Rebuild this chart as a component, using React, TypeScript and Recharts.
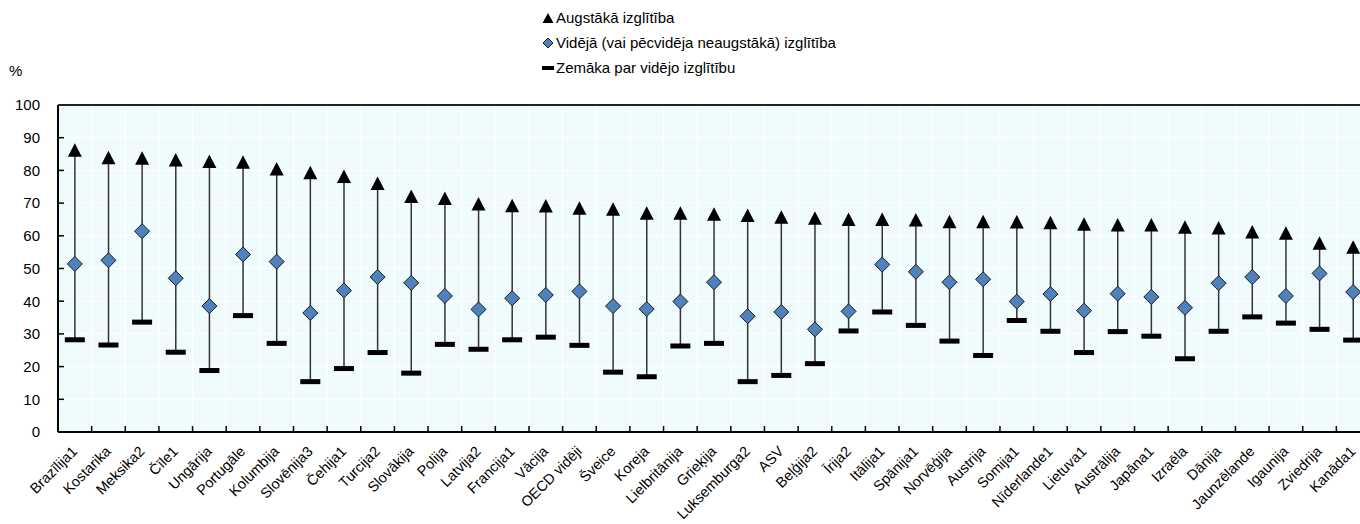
import { ComposedChart, Bar, Line, XAxis, YAxis, CartesianGrid, ReferenceLine } from "recharts";

// Employment rates by educational attainment, %
const countries = [
  "Brazīlija1", "Kostarika", "Meksika2", "Čīle1", "Ungārija", "Portugāle", "Kolumbija", "Slovēnija3",
  "Čehija1", "Turcija2", "Slovākija", "Polija", "Latvija2", "Francija1", "Vācija", "OECD vidēji",
  "Šveice", "Koreja", "Lielbritānija", "Grieķija", "Luksemburga2", "ASV", "Beļģija2", "Īrija2",
  "Itālija1", "Spānija1", "Norvēģija", "Austrija", "Somija1", "Nīderlande1", "Lietuva1", "Austrālija",
  "Japāna1", "Izraēla", "Dānija", "Jaunzēlande", "Igaunija", "Zviedrija", "Kanāda1",
];

const tertiary = [
  86.2, 83.9, 83.7, 83.2, 82.7, 82.5, 80.4, 79.3, 78.1, 76.0, 72.0, 71.4, 69.7, 69.2, 69.1, 68.4,
  68.1, 66.9, 66.9, 66.6, 66.2, 65.7, 65.4, 65.0, 65.0, 64.8, 64.3, 64.3, 64.2, 64.0, 63.5, 63.3,
  63.3, 62.6, 62.4, 61.2, 60.8, 57.7, 56.5,
];

const upperSecondary = [
  51.4, 52.5, 61.4, 47.0, 38.5, 54.3, 52.1, 36.4, 43.3, 47.4, 45.6, 41.6, 37.5, 40.9, 41.9, 43.0,
  38.5, 37.6, 39.9, 45.8, 35.4, 36.7, 31.4, 36.9, 51.2, 49.0, 45.8, 46.7, 39.9, 42.2, 37.1, 42.3,
  41.3, 38.0, 45.5, 47.4, 41.6, 48.5, 42.8,
];

const belowSecondary = [
  28.2, 26.6, 33.6, 24.4, 18.8, 35.6, 27.1, 15.4, 19.4, 24.3, 18.0, 26.8, 25.3, 28.2, 29.0, 26.5,
  18.3, 16.9, 26.3, 27.1, 15.4, 17.3, 20.9, 30.9, 36.7, 32.6, 27.8, 23.4, 34.1, 30.8, 24.3, 30.7,
  29.3, 22.4, 30.8, 35.2, 33.3, 31.4, 28.1,
];

const yTicks = [0, 10, 20, 30, 40, 50, 60, 70, 80, 90, 100];

const data = countries.map((name, i) => ({
  name,
  high: tertiary[i],
  mid: upperSecondary[i],
  low: belowSecondary[i],
  range: [belowSecondary[i], tertiary[i]],
}));

const FONT = "'Liberation Sans', Arial, sans-serif";
const CHART_W = 1380;
const MARGIN = { top: 105, right: 10, bottom: 0, left: 0 };
const Y_W = 58;

const RangeLine = (props: any) => {
  const { x, y, width, height } = props;
  const cx = x + width / 2;
  return <line x1={cx} y1={y} x2={cx} y2={y + height} stroke="#333" strokeWidth={1.5} />;
};

const TriangleDot = (props: any) => {
  const { cx, cy } = props;
  if (cx == null || cy == null) return null;
  return <path d={`M${cx},${cy - 7}L${cx + 7},${cy + 6.5}L${cx - 7},${cy + 6.5}Z`} fill="#000" />;
};

const DiamondDot = (props: any) => {
  const { cx, cy } = props;
  if (cx == null || cy == null) return null;
  return (
    <path
      d={`M${cx},${cy - 7.5}L${cx + 7.5},${cy}L${cx},${cy + 7.5}L${cx - 7.5},${cy}Z`}
      fill="#4F81BD"
      stroke="#1a1a1a"
      strokeWidth={1}
    />
  );
};

const DashDot = (props: any) => {
  const { cx, cy } = props;
  if (cx == null || cy == null) return null;
  return <rect x={cx - 10} y={cy - 2.5} width={20} height={5} fill="#000" />;
};

// x labels, plus the small inward tick at the left edge of each category band
const NameTick = (props: any) => {
  const { x, y, payload, index } = props;
  const band = (CHART_W - MARGIN.left - MARGIN.right - Y_W) / countries.length;
  const half = payload && payload.offset ? payload.offset : band / 2;
  const axisY = y - 8;
  return (
    <g>
      {index > 0 && (
        <line x1={x - half} x2={x - half} y1={axisY} y2={axisY - 6} stroke="#000" strokeWidth={1.5} />
      )}
      <g transform={`translate(${x - 4},${y + 5})`}>
        <text textAnchor="end" transform="rotate(-45)" dy="0.71em" fontSize={14.5} fontFamily={FONT} fill="#000">
          {payload.value}
        </text>
      </g>
    </g>
  );
};

// y labels, plus the small inward tick from the axis
const ValueTick = (props: any) => {
  const { x, y, payload } = props;
  const axisX = x + 18;
  const v = payload.value;
  return (
    <g>
      {v > 0 && v < 100 && (
        <line x1={axisX} x2={axisX + 6} y1={y} y2={y} stroke="#000" strokeWidth={1.5} />
      )}
      <text x={x} y={y} dy="0.355em" textAnchor="end" fontSize={15} fontFamily={FONT} fill="#000">
        {v}
      </text>
    </g>
  );
};

const legendRows = [
  { label: "Augstākā izglītība", icon: "tri" },
  { label: "Vidējā (vai pēcvidēja neaugstākā) izglītība", icon: "dia" },
  { label: "Zemāka par vidējo izglītību", icon: "dash" },
];

function LegendIcon({ kind }: { kind: string }) {
  return (
    <svg width={12} height={14} style={{ marginRight: 2 }}>
      {kind === "tri" && <path d="M6,2L11.5,12L0.5,12Z" fill="#000" />}
      {kind === "dia" && <path d="M6,2L11,7L6,12L1,7Z" fill="#4F81BD" stroke="#1a1a1a" strokeWidth={1} />}
      {kind === "dash" && <rect x={0} y={5} width={12} height={4} fill="#000" />}
    </svg>
  );
}

export default function App() {
  return (
    <div
      style={{
        position: "absolute",
        left: 0,
        top: 0,
        width: 1360,
        height: 524,
        overflow: "hidden",
        background: "#fff",
        fontFamily: FONT,
      }}
    >
      <div style={{ position: "absolute", left: 542, top: 5 }}>
        {legendRows.map((r) => (
          <div key={r.label} style={{ display: "flex", alignItems: "center", height: 25, fontSize: 15, color: "#000" }}>
            <LegendIcon kind={r.icon} />
            <span>{r.label}</span>
          </div>
        ))}
      </div>
      <div style={{ position: "absolute", left: 9, top: 62, fontSize: 15, color: "#000" }}>%</div>

      <ComposedChart width={CHART_W} height={524} data={data} margin={MARGIN}>
        <CartesianGrid
          stroke="#fff"
          strokeWidth={1}
          fill="#F0FBFE"
          verticalCoordinatesGenerator={({ offset }: any) =>
            countries.slice(1).map((_, i) => offset.left + ((i + 1) * offset.width) / countries.length)
          }
        />
        <XAxis
          dataKey="name"
          interval={0}
          height={92}
          tick={<NameTick />}
          tickLine={false}
          axisLine={{ stroke: "#000", strokeWidth: 2 }}
        />
        <YAxis
          domain={[0, 100]}
          ticks={yTicks}
          interval={0}
          width={Y_W}
          tickLine={false}
          tickMargin={12}
          tick={<ValueTick />}
          axisLine={{ stroke: "#000", strokeWidth: 2 }}
        />
        <ReferenceLine y={100} stroke="#222" strokeWidth={2} />
        <Bar dataKey="range" shape={<RangeLine />} isAnimationActive={false} />
        <Line dataKey="low" stroke="none" dot={<DashDot />} activeDot={false} isAnimationActive={false} />
        <Line dataKey="mid" stroke="none" dot={<DiamondDot />} activeDot={false} isAnimationActive={false} />
        <Line dataKey="high" stroke="none" dot={<TriangleDot />} activeDot={false} isAnimationActive={false} />
      </ComposedChart>
    </div>
  );
}
